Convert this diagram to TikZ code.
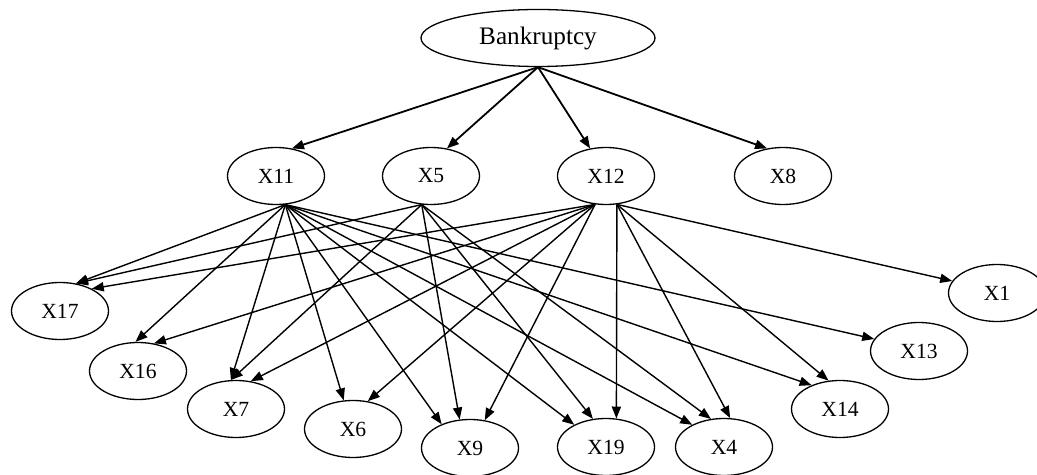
\documentclass[tikz,border=0pt]{standalone}
\usepackage{fontspec}
\setmainfont{Liberation Serif}
\usetikzlibrary{shapes.geometric,arrows.meta}

\begin{document}
\begin{tikzpicture}[x=0.5pt,y=-0.5pt,>={Triangle[length=6pt,width=4.6pt]},
  var/.style={draw,ellipse,line width=0.65pt,inner sep=0pt,minimum width=48.5pt,minimum height=28.5pt,font=\fontsize{10.8}{12}\selectfont},
  link/.style={->,line width=0.7pt}]
  \useasboundingbox (0,0) rectangle (1037,475);
  \node[var,minimum width=117pt,font=\fontsize{12.6}{14}\selectfont] (bank) at (538,38) {Bankruptcy};
  \foreach \name/\x/\y/\lab in {x11/276/176/X11,x5/431/176/X5,x12/606/176/X12,x8/783/176/X8,
    x17/60/311/X17,x16/138/371/X16,x7/236/409/X7,x6/353/429/X6,x9/470/448/X9,
    x19/606/447/X19,x4/724/447/X4,x14/840/409/X14,x13/919/351/X13,x1/997/293/X1}{
    \node[var] (\name) at (\x,\y) {\lab};
  }
  % top level
  \foreach \t/\a in {x11/60,x5/60,x12/120,x8/120}
    \draw[link,line width=0.9pt] (bank.south) -- (\t.\a);
  % children of X11, X5, X12
  \foreach \t/\a in {x17/60,x16/95,x7/100,x6/108,x9/140,x19/145,x4/145,x14/140,x13/165}
    \draw[link] (x11.-72) -- (\t.\a);
  \foreach \t/\a in {x17/60,x7/100,x9/110,x19/115,x4/115}
    \draw[link] (x5.-108) -- (\t.\a);
  \foreach \t/\a in {x17/35,x16/60,x7/62,x6/62,x9/62}
    \draw[link] (x12.-111) -- (\t.\a);
  \foreach \t/\a in {x19/70,x4/78,x14/112,x1/165}
    \draw[link] (x12.-69) -- (\t.\a);
\end{tikzpicture}
\end{document}
